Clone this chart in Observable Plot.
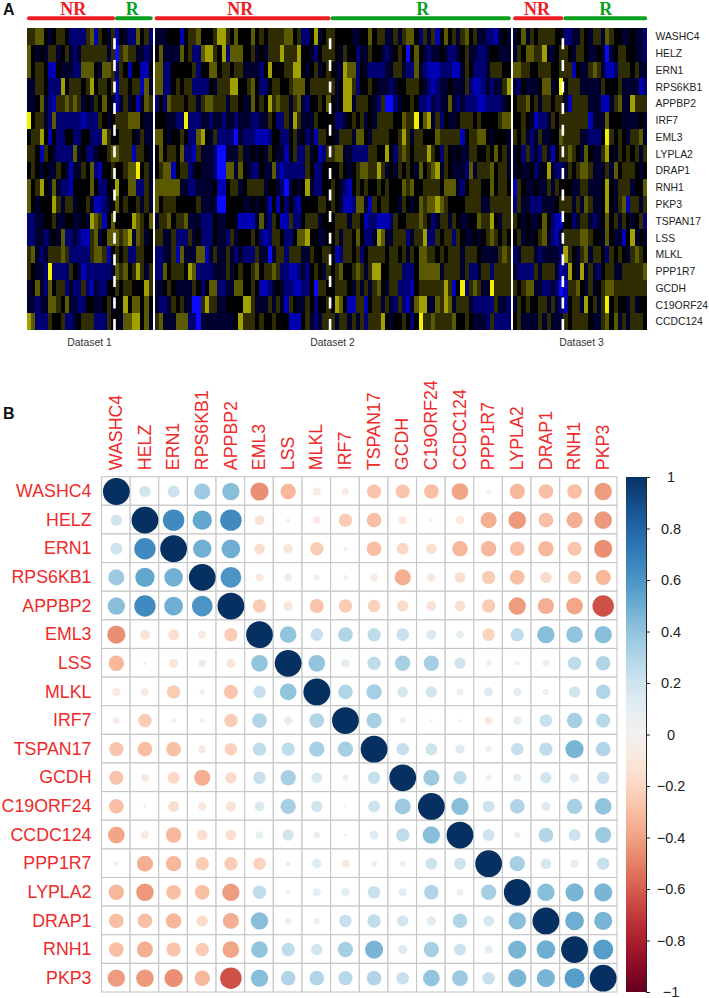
<!DOCTYPE html>
<html>
<head>
<meta charset="utf-8">
<script src="https://cdn.jsdelivr.net/npm/d3@7"></script>
<script src="https://cdn.jsdelivr.net/npm/@observablehq/plot@0.6"></script>
<style>
html,body{margin:0;padding:0;background:#fff}
#page{position:relative;width:709px;height:998px;overflow:hidden;font-family:"Liberation Sans",Arial,sans-serif}
#page svg{position:absolute;background:transparent}
.tag{position:absolute;font-weight:bold;font-size:16px;line-height:16px;color:#111}
#heat g[aria-label="bar"]{filter:blur(.45px)}
</style>
</head>
<body>
<div id="page"><div class="tag" style="left:3px;top:2px">A</div><div class="tag" style="left:3px;top:406px">B</div></div>
<script>
const heatGenes = ["WASHC4","HELZ","ERN1","RPS6KB1","APPBP2","IRF7","EML3","LYPLA2","DRAP1","RNH1","PKP3","TSPAN17","LSS","MLKL","PPP1R7","GCDH","C19ORF24","CCDC124"];
const corrGenes = ["WASHC4","HELZ","ERN1","RPS6KB1","APPBP2","EML3","LSS","MLKL","IRF7","TSPAN17","GCDH","C19ORF24","CCDC124","PPP1R7","LYPLA2","DRAP1","RNH1","PKP3"];

// Expression levels per gene (heatGenes order).
const dataset1 = [
[1,1,2,2,0,-1,0,1,1,0,-2,-2,-2,-2,1,2,-3,1,0,-1,1,-3,0,-1,-2,-2,2,0,1,-2],
[2,0,-1,0,-1,1,1,-1,0,1,-1,-2,-1,1,1,1,1,1,1,-1,1,-4,1,2,1,1,-1,-1,-2,-1],
[2,0,1,1,0,-3,-3,0,-1,-1,-1,-2,-2,2,2,2,0,-1,2,2,1,-2,1,0,-3,0,0,-3,-3,0],
[-1,-1,1,1,0,-2,-2,-2,3,0,1,1,1,0,1,3,0,1,1,0,1,-3,1,1,0,1,1,-3,2,-1],
[-1,-1,0,2,-1,-2,-3,1,1,2,1,2,1,-1,0,-1,1,0,2,0,-1,-3,-1,1,-1,0,-3,-1,2,1],
[4,0,1,1,-1,-2,2,-2,-2,-2,-2,-2,-2,-3,-2,-2,-2,1,0,-1,0,1,1,1,2,2,2,0,-1,-1],
[0,1,1,3,0,-3,0,-2,-2,0,0,-2,-2,0,0,-2,-2,-2,3,1,0,0,1,1,1,0,-1,1,-1,-1],
[1,1,0,-3,1,0,-1,-2,-2,-2,-2,2,-1,0,-2,-2,-1,0,0,1,2,2,1,1,1,-3,1,1,0,-1],
[0,1,0,-1,0,-1,-1,1,0,-1,-3,-1,-1,1,0,2,-2,-3,0,0,1,0,0,1,2,2,4,0,1,-1],
[2,0,1,3,0,-1,2,-1,-2,-2,-3,0,0,0,0,2,0,-2,-2,0,0,3,0,0,2,2,-2,-2,1,-1],
[2,0,-1,0,0,0,3,1,-1,1,1,-1,0,0,1,-1,-3,-3,-2,-1,0,2,0,1,0,0,1,-1,1,-1],
[-2,-2,-1,-1,0,0,1,-1,-1,0,0,-1,-1,0,-1,3,2,1,-3,0,2,0,0,0,0,3,2,1,0,2],
[-2,-2,-1,-1,-2,-1,0,-1,2,-2,-2,-1,-2,-3,-3,1,2,-1,0,2,2,2,1,2,3,-1,2,1,-1,0],
[1,2,-1,-2,-1,1,1,1,2,1,-2,-2,-2,-2,-2,1,2,2,1,-3,0,1,0,1,-2,-2,1,1,0,0],
[1,0,-1,-1,-2,4,-2,-2,-2,-2,1,0,-1,-3,-2,-2,-2,-2,-2,-2,-1,2,1,2,0,1,3,1,-1,1],
[-1,0,2,-1,-2,2,0,1,1,-2,-1,-2,-2,1,-2,-3,-1,-2,-2,0,0,1,0,1,1,0,0,0,3,1],
[-1,-1,-2,-1,-1,2,2,1,0,2,-1,-1,-2,-2,0,0,-1,-1,0,1,-1,0,0,3,0,2,2,0,2,0],
[3,2,-2,-2,-2,1,0,0,1,-2,-2,-1,0,1,1,1,-2,-2,-2,1,0,0,-1,2,2,3,3,0,2,-1]
];
const dataset2 = [
[-1,-1,-1,0,0,0,-3,0,1,1,2,0,0,0,1,3,3,1,0,2,0,0,0,2,0,1,0,1,1,1,1,2,2,0,1,-2,-2,0,3,-1,0,1,1,0,0,0,0,-1,-1,0,0,2,0,1,1,-1,-1,1,-1,1,2,2,0,-2,1,-1,1,-3,0,2,0,1,-1,1,2,0,1,-1,-1,-2,-2,-3,-1,0,-1],
[0,2,-1,-1,-1,-1,2,0,1,-2,-2,2,3,3,1,0,3,-2,2,2,2,0,0,1,-1,0,-1,1,1,1,3,1,1,1,3,0,0,-1,-2,0,1,1,1,0,-1,1,0,0,-2,-1,-1,1,0,0,-1,-2,-1,0,1,0,-4,0,2,0,-1,-2,-1,-1,0,-1,-2,-2,-1,0,1,-1,-1,-2,-2,-1,0,0,-1,-1,-1],
[2,2,-2,-2,0,0,0,0,0,1,-2,0,0,2,2,0,1,1,0,1,1,-1,-1,-1,-1,-2,0,3,0,0,0,1,1,3,3,0,-1,0,1,-1,0,1,0,-1,-1,3,2,2,-2,0,-1,-2,-2,-2,-2,-1,-1,1,1,-1,-2,-2,2,-1,-2,-3,-3,-3,-2,-2,-2,-3,-3,-1,1,0,-2,-2,-2,-1,1,1,1,0,0],
[2,2,-2,-2,0,1,0,1,1,-2,-2,-2,-2,0,-1,1,1,1,3,3,0,0,1,2,0,-2,-2,0,1,1,0,0,1,2,2,2,0,1,1,1,1,1,1,-1,0,3,3,1,-2,0,0,1,0,-1,-1,-1,-2,-1,0,0,1,1,1,0,-1,-2,-3,-2,-1,-1,0,-1,-1,-1,1,-2,-3,-3,-2,-1,-2,-1,-1,1,3],
[-2,0,-2,2,1,1,1,0,1,1,-1,1,2,2,1,1,1,-1,1,1,0,-1,-1,2,0,1,0,3,1,2,1,1,-1,1,2,-1,-2,0,0,1,0,2,0,-1,0,3,3,-1,1,1,1,0,-1,-2,1,-4,-4,-2,-1,0,0,1,0,-2,-2,-3,-1,-2,-1,-1,2,-1,-2,-1,-2,-2,-2,-3,-3,-2,-2,-2,-2,-1,0],
[0,0,0,-1,-1,-2,-2,4,-2,-2,-2,-1,-1,-2,-1,-1,-2,-1,-1,-2,-1,-1,-1,-2,-2,-1,-1,1,0,-2,-2,1,-1,3,1,-1,-1,-1,1,0,0,0,0,-2,-2,-1,0,1,0,1,-1,0,-1,1,1,1,1,0,0,2,1,1,4,0,2,3,-1,1,-2,0,-1,-1,0,1,1,1,0,1,0,0,0,0,1,2,2],
[2,2,0,-1,0,0,1,0,-2,-2,2,3,0,-1,1,-2,-2,-2,-2,-4,-1,-2,-2,-2,-3,-3,-3,-2,0,0,-2,-2,0,1,-1,0,-2,-1,-3,1,1,0,0,-1,1,1,1,-1,2,2,0,-1,1,1,1,1,0,0,1,3,1,-1,1,1,0,0,0,2,1,1,1,1,1,-3,0,1,1,2,2,0,-1,0,0,0,-1],
[0,2,0,1,1,0,2,-2,-2,-3,1,-1,-1,-1,-2,-4,-4,-1,-1,-1,1,-1,-1,0,-1,0,-1,1,0,-1,-1,-3,0,1,-2,-2,1,-1,0,-3,-2,1,1,2,2,-1,-1,-2,-2,-2,-2,1,1,0,0,3,0,-2,1,2,1,0,1,1,1,3,1,0,-2,1,0,-1,0,-1,-1,1,1,0,0,1,0,2,0,1,-1],
[0,1,2,2,-3,0,1,1,-2,-1,0,-1,-1,-1,-2,-4,-4,2,2,-1,2,0,-1,-2,-2,0,-1,-1,2,-2,-3,-2,-2,-2,-2,-2,1,0,-2,-2,0,0,0,0,1,0,-1,0,1,2,2,1,1,3,1,-1,0,-1,1,0,1,0,-1,2,0,1,2,3,-1,1,0,-1,-1,-1,-2,2,-1,1,1,1,2,0,1,1,-1],
[2,2,2,2,2,2,-1,-1,-2,-2,-1,-1,-1,-1,0,-3,-3,0,1,1,-1,0,1,1,1,1,-1,0,0,-1,-2,-4,-1,0,-1,0,3,-1,-2,-2,0,0,1,0,-1,-2,-3,0,1,0,1,0,0,1,0,1,0,0,0,2,1,2,0,0,1,1,1,1,0,2,2,2,-1,-2,0,1,1,1,0,0,2,0,1,1,0],
[2,0,1,1,1,0,0,0,0,0,1,-1,-1,-1,-1,-4,-4,0,0,0,0,-1,-1,0,-1,0,-1,-3,0,-3,0,-2,0,-2,-3,0,0,0,0,1,1,0,1,0,-1,-3,-3,-2,2,2,-1,-3,1,0,1,1,0,0,-1,1,0,-1,0,2,1,2,2,3,2,1,0,0,0,0,1,1,1,1,-1,-1,1,1,1,1,1],
[-1,1,1,2,0,1,1,2,-1,-1,-1,-2,-2,-2,0,-1,-1,0,0,-1,-3,-3,-3,-3,-1,2,-1,-2,1,0,-3,-3,1,-2,-2,0,1,1,1,-1,0,0,0,1,1,1,-1,1,1,0,-3,-2,-2,-3,-3,-3,-2,1,0,0,1,1,1,2,1,0,-2,-1,1,1,-1,1,0,-1,-1,0,0,2,1,1,3,0,-1,1,1],
[1,1,-1,-1,1,-2,-2,-2,1,-1,0,-2,-2,-2,0,-1,-1,-2,1,-1,0,0,0,1,0,-2,-3,-2,1,1,0,-2,-2,0,2,2,3,0,0,-1,-1,0,0,1,-1,1,1,0,2,0,-2,-2,-1,3,2,-1,-1,1,1,1,-2,-1,1,1,3,-2,-2,1,0,1,1,-2,1,0,-1,-1,0,-1,0,1,2,1,0,1,0],
[-2,-2,-1,-1,1,-3,2,-1,-1,-1,2,2,-3,-1,1,-1,-1,1,-1,-2,-1,-2,-2,-2,1,-1,-1,-4,-1,1,1,-2,1,1,1,-1,-1,1,0,0,1,1,0,-3,-2,1,1,0,1,-2,0,1,1,1,1,0,1,1,0,1,-1,1,0,2,2,1,1,0,1,0,1,1,1,-1,1,1,1,0,-1,-1,-1,-1,1,2,1],
[-2,-2,2,0,1,1,1,0,3,2,-2,-2,-2,-2,-1,-1,-1,1,-1,0,1,0,0,1,2,0,1,1,2,1,-2,-2,-3,-3,-2,-1,-2,0,1,0,-1,1,0,1,2,0,0,1,2,1,-1,1,3,3,0,0,1,1,1,-2,-2,-2,0,2,2,2,2,2,-1,1,1,1,1,-1,1,-2,-2,-1,1,1,-2,1,1,1,1],
[-1,-1,0,1,0,-1,-1,-1,-1,1,0,-2,0,2,2,-2,-2,-1,-1,2,2,0,0,1,0,-3,-3,-2,-1,0,-1,-2,-2,-3,-3,-2,-2,0,-4,1,1,0,0,1,1,1,0,-1,1,-1,1,-1,1,2,0,-1,1,1,-2,-2,-2,-3,0,1,1,1,1,1,1,3,1,-3,0,4,-2,1,2,1,-1,-1,4,1,1,1,1],
[-1,-2,-2,-1,1,0,1,-1,-1,-4,-4,1,3,1,1,-1,-1,0,0,0,0,3,3,1,-1,-1,-1,1,-1,1,-1,-3,1,0,-1,-1,1,0,-2,0,0,1,0,3,2,0,-3,-3,1,1,-3,0,1,1,-1,1,-1,-2,1,-2,-3,-1,2,3,3,-1,-1,2,1,3,2,-1,1,1,1,-1,-2,-2,-2,-2,-2,1,-1,-1,-2],
[1,2,-1,-1,-1,2,2,2,-2,-2,-4,-1,-1,-1,-1,-1,-1,-1,-1,0,3,1,1,1,0,1,0,0,1,0,0,0,-3,-3,-3,0,1,-1,-2,-1,1,1,1,-1,1,1,-1,1,-1,1,-2,1,1,1,3,0,-1,0,0,1,0,-2,0,4,1,1,2,1,1,1,1,2,0,0,1,0,-1,-1,-1,-2,1,-2,-2,-2,-2]
];
const dataset3 = [
[-1,0,2,-1,1,0,1,1,1,1,0,0,-2,-2,-1,-1,1,0,-1,1,1,-1,2,1,0,0,-1,-1,0,-1,-1,-2],
[-1,1,0,2,2,1,1,3,-1,-1,0,1,1,0,-1,1,1,0,-1,-1,0,-1,-4,-1,0,1,1,0,0,-1,-1,-2],
[2,2,1,1,0,0,1,1,1,0,0,1,1,1,-3,0,-1,-1,1,2,1,-1,-3,-3,-2,1,1,1,0,1,-1,-1],
[-1,-2,0,-1,-1,-1,0,2,2,-1,0,4,0,1,1,1,-1,-1,-1,-1,-1,1,0,0,0,1,-1,-1,-1,-1,-3,-2],
[0,1,1,2,0,1,-1,1,1,0,1,1,-1,-3,1,1,1,1,-1,-1,-1,-3,-3,-1,1,2,-1,-1,3,1,1,1],
[0,0,1,0,-1,-3,-2,-2,-1,1,0,1,1,1,1,1,1,1,-3,-1,-1,-1,2,0,0,0,-1,-1,-1,-1,0,-1],
[1,0,1,-1,-2,-1,1,-1,-1,0,0,2,1,1,1,1,-1,-1,-2,-2,-2,0,4,1,0,1,0,-1,1,1,2,-1],
[-1,0,-2,1,-2,-1,-2,1,-1,-3,0,1,1,2,1,0,-1,2,0,-1,-1,1,3,0,-1,1,0,1,0,1,-1,1],
[-1,0,-1,-1,0,-2,-1,0,3,-1,-2,-2,-1,1,0,1,2,2,1,-1,-1,-1,1,-1,2,0,1,1,1,0,-1,0],
[-3,1,0,-1,-1,0,-1,-1,1,-1,1,0,0,0,-1,-1,1,1,-1,-1,-1,0,3,0,-1,1,1,1,-1,0,0,2],
[-2,1,-1,-1,-2,-2,-2,-1,-1,-1,0,1,1,1,-1,1,-1,2,1,-1,-1,0,3,0,-1,1,2,-3,1,1,-1,1],
[1,0,-1,0,-1,-1,0,2,0,-2,-3,-3,0,0,-2,-1,1,1,-1,-2,-1,0,2,0,1,-1,1,0,-1,0,1,-2],
[0,1,-1,0,-1,0,1,2,-1,-2,-3,-1,1,1,1,1,2,2,1,0,0,-1,2,0,-1,-1,-3,0,3,-1,0,-1],
[-2,-1,1,1,1,-1,-2,-1,-1,-1,-1,-2,3,1,0,-1,1,2,-1,1,1,0,-2,1,0,1,0,-1,1,2,1,0],
[-1,-2,-2,-2,-2,1,-1,1,1,1,-1,-3,-2,3,0,-1,3,-1,1,-1,-2,0,1,1,-1,-1,1,1,1,1,1,2],
[1,0,1,2,2,-1,-1,-2,-2,-1,-2,-4,-3,1,1,2,0,-1,1,-1,0,1,2,2,1,1,1,1,1,1,1,1],
[-1,1,0,1,0,0,1,1,-1,1,-1,-2,-3,0,1,1,-1,3,0,1,-1,1,4,0,1,0,0,-1,1,-1,0,0],
[0,1,-1,-1,-1,-1,1,-1,1,-1,-1,-1,1,0,1,1,1,1,0,-1,-1,1,2,0,2,-1,1,-1,1,1,1,0]
];

// Response groups, in heat-map column positions.
const colOffsets = [0,30.45,116];
const groupNames = ["NR","R","NR","R","NR","R"];
const groupStart = [0,21,30.45,72.45,116,128];
const groupEnd   = [21,30,72.45,115.45,128,148];
const groupMid   = [10.9,25,50.8,94.3,121.6,138];
const datasetNames = ["Dataset 1","Dataset 2","Dataset 3"];
const datasetMid = [14.8,72.8,132.2];
const dashColumns = [21,72.45,128];

// Upper triangle of the correlation matrix, row by row, corrGenes order.
const corrUpper = [
[.18,.2,.36,.42,-.46,-.33,-.09,-.07,-.28,-.28,-.3,-.39,-.03,-.33,-.3,-.3,-.42],
[.64,.52,.64,-.14,-.02,-.08,-.25,-.3,-.09,-.02,-.09,-.36,-.43,-.3,-.36,-.43],
[.48,.49,-.16,-.12,-.25,-.03,-.3,-.2,-.16,-.33,-.33,-.3,-.33,-.28,-.46],
[.6,-.09,.08,-.04,-.03,-.08,-.36,-.1,-.16,-.25,-.3,-.18,-.25,-.33],
[-.25,-.12,-.28,-.25,-.22,-.18,-.14,-.16,-.25,-.42,-.36,-.39,-.64],
[.39,.22,.3,.25,.22,.14,.08,-.22,.25,.42,.39,.42],
[.39,.1,.25,.33,.33,.18,.04,.03,.06,.25,.3],
[.3,.33,.16,.18,.06,.12,.09,.05,.18,.3],
[.33,-.05,.01,.01,-.09,.1,.22,.33,.28],
[.22,.2,.12,.05,.22,.25,.46,.3],
[.36,.25,.05,.09,.18,.12,.22],
[.42,.2,.3,.12,.33,.39],
[.2,.06,.3,.2,.36],
[.33,.16,.09,.22],
[.42,.46,.46],
[.49,.46],
[.56]
];
const barTicks = [1,.8,.6,.4,.2,0,-.2,-.4,-.6,-.8,-1];

const page = document.getElementById("page");
const heatRows = [];
[dataset1,dataset2,dataset3].forEach((ds,k)=>ds.forEach((row,r)=>row.forEach((v,i)=>
  heatRows.push({gene:heatGenes[r],col:colOffsets[k]+i,v}))));
const groups = groupNames.map((name,i)=>({name,s:groupStart[i],e:groupEnd[i],m:groupMid[i]}));
const redGreen = n => n==="NR" ? "#ee1c25" : "#0aa01e";

const heat = Plot.plot({
  width:709,height:360,
  marginLeft:27,marginRight:61,marginTop:28,marginBottom:30,
  x:{axis:null,domain:[0,148.2]},
  y:{domain:heatGenes,padding:0,axis:null,round:false},
  color:{type:"linear",domain:[-4,-3,-2,-1,0,1,2,3,4],
    range:["#0a0aff","#0000b4","#000072","#000030","#000000","#2e2c00","#5c5a00","#a0a000","#f0f000"],interpolate:"rgb"},
  marks:[
    Plot.barX(heatRows,{x1:"col",x2:d=>d.col+1,y:"gene",fill:"v",shapeRendering:"crispEdges"}),
    Plot.ruleX(dashColumns,{x:d=>d,dx:-1,stroke:"white",strokeWidth:2.6,strokeDasharray:"11 10.6",strokeDashoffset:11.3}),
    Plot.axisY({anchor:"right",tickSize:0,tickPadding:7,fontSize:10.4,fill:"#222",label:null,fontFamily:"Liberation Sans"}),
    Plot.ruleY(groups,{y:()=>heatGenes[0],x1:"s",x2:"e",dy:-18.6,stroke:d=>redGreen(d.name),strokeWidth:4,strokeLinecap:"round",insetLeft:2,insetRight:2}),
    Plot.text(groups,{x:"m",y:()=>heatGenes[0],dy:-28,text:"name",fill:d=>redGreen(d.name),fontFamily:"Liberation Serif",fontWeight:"bold",fontSize:18}),
    Plot.text(datasetNames,{x:(d,i)=>datasetMid[i],y:()=>heatGenes[17],dy:20.5,text:d=>d,fill:"#333",fontSize:10.4,fontFamily:"Liberation Sans"})
  ]
});
heat.id="heat"; heat.style.left="0"; heat.style.top="0";
page.appendChild(heat);

const corrPairs=[];
corrGenes.forEach((a,i)=>corrGenes.forEach((b,j)=>{
  const v = i===j ? 1 : i<j ? corrUpper[i][j-i-1] : corrUpper[j][i-j-1];
  corrPairs.push({a,b,v});
}));
const corr = Plot.plot({
  width:709,height:628,
  marginLeft:101.5,marginRight:92,marginTop:106.7,marginBottom:6,
  x:{domain:corrGenes,padding:0,axis:null,round:false},
  y:{domain:corrGenes,padding:0,axis:null,round:false},
  color:{type:"linear",scheme:"RdBu",domain:[-1,1]},
  r:{type:"sqrt",domain:[0,1],range:[0,13.4]},
  marks:[
    Plot.cell(corrPairs,{x:"b",y:"a",fill:"white",stroke:"#c6c6c6",strokeWidth:1.1}),
    Plot.dot(corrPairs,{x:"b",y:"a",r:d=>Math.abs(d.v),fill:"v"}),
    Plot.axisX({anchor:"top",tickSize:0,tickPadding:7,tickRotate:-90,fontSize:17.8,fill:"#ee2a2a",label:null,fontFamily:"Liberation Sans"}),
    Plot.axisY({anchor:"left",tickSize:0,tickPadding:10.5,fontSize:17.8,fill:"#ee2a2a",label:null,fontFamily:"Liberation Sans"})
  ]
});
corr.style.left="0"; corr.style.top="370px";
page.appendChild(corr);

const barStops = d3.range(-1,1,0.01);
const bar = Plot.plot({
  width:83,height:628,
  marginLeft:0,marginRight:63,marginTop:107,marginBottom:6,
  x:{axis:null,domain:[0,1]},
  y:{axis:null,domain:[-1,1]},
  color:{type:"linear",scheme:"RdBu",domain:[-1,1]},
  marks:[
    Plot.rect(barStops,{x1:0,x2:1,y1:d=>d,y2:d=>d+0.0105,fill:d=>d,inset:0,shapeRendering:"crispEdges"}),
    Plot.ruleX([1],{stroke:"#222",strokeWidth:1}),
    Plot.ruleY(barTicks,{x1:1,x2:1.2,stroke:"#222",strokeWidth:1}),
    Plot.text(barTicks,{x:1,y:d=>d,dx:24.5,text:d=>d3.format("")(d),fontSize:14.5,fill:"#222",fontFamily:"Liberation Sans",textAnchor:"middle"})
  ]
});
bar.style.left="626px"; bar.style.top="370px";
page.appendChild(bar);
</script>
</body>
</html>
